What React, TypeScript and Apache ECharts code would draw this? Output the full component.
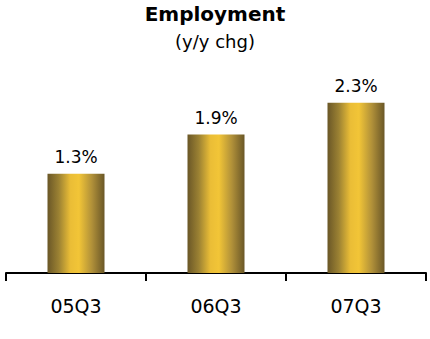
import React, { useEffect, useRef } from "react";
import * as echarts from "echarts";

const categories = ["05Q3", "06Q3", "07Q3"];
const employmentChange = [1.34, 1.87, 2.3];
const chartTitle = "Employment";
const chartSubtitle = "(y/y chg)";

export default function App() {
  const ref = useRef<HTMLDivElement>(null);
  useEffect(() => {
    document.body.style.margin = "0";
    if (!ref.current) return;
    const chart = echarts.init(ref.current, null, { renderer: "svg" });
    const gold = new echarts.graphic.LinearGradient(0, 0, 1, 0, [
      { offset: 0, color: "#6a5727" },
      { offset: 0.2, color: "#9c8233" },
      { offset: 0.4, color: "#eabd36" },
      { offset: 0.55, color: "#f2c537" },
      { offset: 0.78, color: "#b09039" },
      { offset: 1, color: "#6a5727" },
    ]);
    chart.setOption({
      animation: false,
      backgroundColor: "#ffffff",
      title: {
        text: chartTitle,
        subtext: chartSubtitle,
        left: "center",
        top: -1,
        itemGap: 8,
        textStyle: {
          fontFamily: "DejaVu Sans",
          fontWeight: "bold",
          fontSize: 20,
          color: "#000",
        },
        subtextStyle: {
          fontFamily: "DejaVu Sans",
          fontSize: 18,
          color: "#000",
        },
      },
      grid: { left: 6, right: 4, top: 51, bottom: 66 },
      xAxis: {
        type: "category",
        data: categories,
        boundaryGap: true,
        axisLine: { show: true, lineStyle: { color: "#000", width: 2 } },
        axisTick: { show: true, alignWithLabel: false, length: 8, lineStyle: { color: "#000", width: 2 } },
        axisLabel: {
          fontFamily: "DejaVu Sans",
          fontSize: 19,
          color: "#000",
          margin: 23,
        },
      },
      yAxis: {
        type: "value",
        min: 0,
        max: 3,
        show: false,
        splitLine: { show: false },
      },
      series: [
        {
          type: "bar",
          data: employmentChange,
          barWidth: 57,
          itemStyle: { color: gold },
          label: {
            show: true,
            position: "top",
            distance: 8,
            fontFamily: "DejaVu Sans",
            fontSize: 17,
            color: "#000",
            formatter: (p: any) => Number(p.value).toFixed(1) + "%",
          },
        },
      ],
    });
    return () => chart.dispose();
  }, []);
  return <div ref={ref} style={{ width: 430, height: 339 }} />;
}
